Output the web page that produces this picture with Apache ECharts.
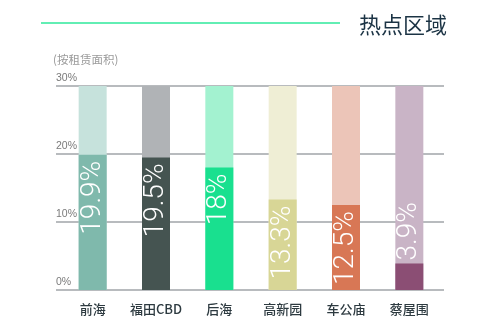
<!DOCTYPE html>
<html>
<head>
<meta charset="utf-8">
<script src="https://cdn.jsdelivr.net/npm/echarts@6/dist/echarts.min.js"></script>
<style>
  html, body { margin: 0; padding: 0; background: #fff; }
  #chart { width: 500px; height: 331px; }
</style>
</head>
<body>
<div id="chart"></div>
<script>
const categories = ['前海', '福田CBD', '后海', '高新园', '车公庙', '蔡屋围']
const shares = [19.9, 19.5, 18, 13.3, 12.5, 3.9]
const fullScale = [30, 30, 30, 30, 30, 30]
const barColors = ['#7fb9ac', '#455451', '#19e08f', '#d8d696', '#d87755', '#8b4e74']
const lightColors = ['#c6e2dc', '#b0b3b6', '#a3f2d0', '#efeed5', '#ecc5b8', '#c9b4c6']

const chart = echarts.init(document.getElementById('chart'))

const labelFont = { fontFamily: 'Roboto', fontWeight: 300, fontSize: 28, color: '#fff' }

const option = {
    animation: false,
    graphic: [
        {
            type: 'line',
            shape: { x1: 41, y1: 23, x2: 340, y2: 23 },
            style: { stroke: '#2ee89b', lineWidth: 1.6 }
        },
        {
            type: 'text',
            left: 359,
            top: 14,
            style: { text: '热点区域', fill: '#1b3344', font: '22px "Noto Sans CJK SC"' }
        },
        {
            type: 'text',
            left: 53,
            top: 54,
            style: { text: '(按租赁面积)', fill: '#9a9a9a', font: '11.5px "Noto Sans CJK SC"' }
        }
    ],
    grid: [
        { left: 56, right: 56, top: 86, bottom: 41 },
        { left: 61, right: 59, top: 86, bottom: 41 }
    ],
    xAxis: [
        { gridIndex: 0, type: 'value', min: 0, max: 1, show: false },
        {
            gridIndex: 1,
            type: 'category',
            data: categories,
            axisLine: { show: false },
            axisTick: { show: false },
            axisLabel: {
                interval: 0,
                color: '#2d3a40',
                fontSize: 13,
                fontWeight: 500,
                margin: 13,
                fontFamily: 'Noto Sans CJK SC'
            }
        }
    ],
    yAxis: [
        {
            gridIndex: 0,
            type: 'value',
            min: 0,
            max: 30,
            interval: 10,
            axisLine: { show: false },
            axisTick: { show: false },
            splitLine: { lineStyle: { color: '#a0a5a8', width: 1.5 } },
            axisLabel: {
                inside: true,
                formatter: '{value}%',
                color: '#7a7a7a',
                fontSize: 10.5,
                verticalAlign: 'bottom',
                margin: 0,
                padding: [0, 0, 2, 0]
            }
        },
        { gridIndex: 1, type: 'value', min: 0, max: 30, show: false }
    ],
    series: [
        {
            type: 'bar',
            xAxisIndex: 1,
            yAxisIndex: 1,
            barWidth: 28,
            barGap: '-100%',
            data: fullScale.map((v, i) => ({ value: v, itemStyle: { color: lightColors[i] } })),
            silent: true
        },
        {
            type: 'bar',
            xAxisIndex: 1,
            yAxisIndex: 1,
            barWidth: 28,
            data: shares.map((v, i) => {
                const item = { value: v, itemStyle: { color: barColors[i] } }
                // the smallest bar keeps its label above the bar
                if (v < 5) {
                    item.label = { position: 'top', align: 'left', distance: 3 }
                }
                return item
            }),
            label: {
                show: true,
                position: 'insideTop',
                rotate: 90,
                align: 'right',
                verticalAlign: 'middle',
                distance: 6,
                formatter: '{c}%',
                ...labelFont
            }
        }
    ]
}

chart.setOption(option)
</script>
</body>
</html>
